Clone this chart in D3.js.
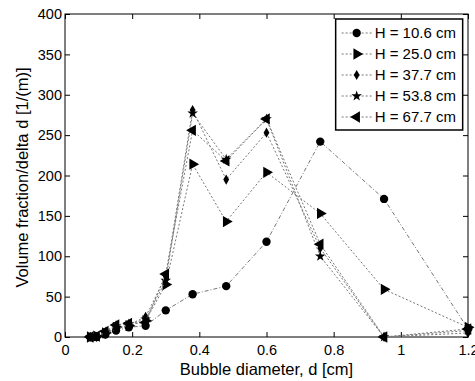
<!DOCTYPE html>
<html>
<head>
<meta charset="utf-8">
<script src="https://cdn.jsdelivr.net/npm/d3@7"></script>
<style>
	body { margin: 0; background: #fff; }
	text { font-family: "Liberation Sans", Arial, sans-serif; fill: #000; }
</style>
</head>
<body>
<div class="chart"></div>
<script>
const diameters = [0.075, 0.094, 0.12, 0.152, 0.19, 0.24, 0.30, 0.38, 0.48, 0.60, 0.76, 0.95, 1.2];
const h106 = [0, 0, 3, 8, 12, 14, 33, 53, 63, 118, 242, 171, 10];
const h250 = [0, 1, 5, 12, 14, 20, 65, 214, 143, 204, 153, 59, 12];
const h377 = [0, 0, 4, 10, 15, 25, 75, 281, 195, 253, 110, 0, 5];
const h538 = [0, 0, 6, 14, 16, 22, 70, 277, 220, 270, 100, 0, 8];
const h677 = [0, 1, 7, 15, 17, 18, 78, 256, 218, 270, 115, 0, 10];
const seriesNames = ["H = 10.6 cm", "H = 25.0 cm", "H = 37.7 cm", "H = 53.8 cm", "H = 67.7 cm"];
const xTicks = [0, 0.2, 0.4, 0.6, 0.8, 1, 1.2];
const yTicks = [0, 50, 100, 150, 200, 250, 300, 350, 400];

const margin = { top: 14, right: 7, bottom: 44, left: 65 },
	width = 475 - margin.left - margin.right,
	height = 381 - margin.top - margin.bottom;

const series = [h106, h250, h377, h538, h677].map((vals, i) => ({
	name: seriesNames[i],
	values: vals.map((v, j) => ({ x: diameters[j], y: v }))
}));

const symbols = [
	d3.symbol().type(d3.symbolCircle).size(55),
	d3.symbol().type(d3.symbolTriangle).size(55),
	d3.symbol().type(d3.symbolDiamond).size(30),
	d3.symbol().type(d3.symbolStar).size(35),
	d3.symbol().type(d3.symbolTriangle).size(55)
];
const rotations = [0, 90, 0, 0, -90];
const dashes = ["4,2,1,2", "2,2", "2,2", "2,2", "2,2"];

const svg = d3
	.select(".chart")
	.append("svg")
	.attr("width", width + margin.left + margin.right)
	.attr("height", height + margin.top + margin.bottom)
	.append("g")
	.attr("transform", `translate(${margin.left},${margin.top})`);

const x = d3.scaleLinear().domain([0, 1.2]).range([0, width]);
const y = d3.scaleLinear().domain([0, 400]).range([height, 0]);

// axes, matlab style: ticks inside, box all round
const styleAxis = (g) => {
	g.select(".domain").remove();
	g.selectAll(".tick line").attr("stroke", "#000");
	g.selectAll(".tick text").style("font-size", "14.5px");
};
svg.append("g")
	.attr("transform", `translate(0,${height})`)
	.call(d3.axisBottom(x).tickValues(xTicks).tickFormat(d3.format("")).tickSize(-5).tickPadding(8))
	.call(styleAxis);
svg.append("g")
	.call(d3.axisTop(x).tickValues(xTicks).tickFormat("").tickSize(-5))
	.call(styleAxis);
svg.append("g")
	.call(d3.axisLeft(y).tickValues(yTicks).tickSize(-5).tickPadding(3))
	.call(styleAxis);
svg.append("g")
	.attr("transform", `translate(${width},0)`)
	.call(d3.axisRight(y).tickValues(yTicks).tickFormat("").tickSize(-5))
	.call(styleAxis);
svg.append("rect")
	.attr("width", width)
	.attr("height", height)
	.attr("fill", "none")
	.attr("stroke", "#000");

const line = d3
	.line()
	.x((d) => x(d.x))
	.y((d) => y(d.y));

series.forEach((s, i) => {
	svg.append("path")
		.datum(s.values)
		.attr("d", line)
		.attr("fill", "none")
		.attr("stroke", "#777")
		.attr("stroke-width", 1)
		.attr("stroke-dasharray", dashes[i]);
	svg.selectAll(`.m${i}`)
		.data(s.values)
		.enter()
		.append("path")
		.attr("d", symbols[i])
		.attr("transform", (d) => `translate(${x(d.x)},${y(d.y)}) rotate(${rotations[i]})`)
		.attr("fill", "#000");
});

// legend
const legend = svg.append("g").attr("transform", `translate(${x(0.8) + 2},5)`);
legend.append("rect")
	.attr("width", 127)
	.attr("height", 111)
	.attr("fill", "#fff")
	.attr("stroke", "#000")
	.attr("stroke-width", 1.5);
series.forEach((s, i) => {
	const row = legend.append("g").attr("transform", `translate(0,${14 + i * 21})`);
	row.append("line")
		.attr("x1", 6)
		.attr("x2", 38)
		.attr("stroke", "#777")
		.attr("stroke-dasharray", "2,2");
	row.append("path")
		.attr("d", symbols[i])
		.attr("transform", `translate(21,0) rotate(${rotations[i]})`)
		.attr("fill", "#000");
	row.append("text")
		.attr("x", 39)
		.attr("dy", "0.36em")
		.style("font-size", "15px")
		.text(s.name);
});

svg.append("text")
	.attr("x", width / 2)
	.attr("y", height + 38)
	.attr("text-anchor", "middle")
	.style("font-size", "16.5px")
	.text("Bubble diameter, d [cm]");
svg.append("text")
	.attr("transform", `translate(${-margin.left + 28},${height / 2 + 2}) rotate(-90)`)
	.attr("text-anchor", "middle")
	.style("font-size", "16.5px")
	.text("Volume fraction/delta d [1/(m)]");
</script>
</body>
</html>
